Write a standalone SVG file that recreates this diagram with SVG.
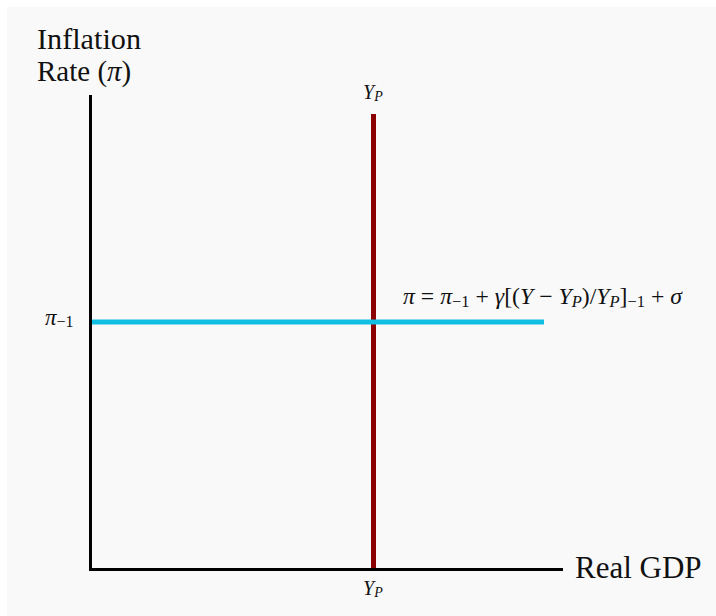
<svg xmlns="http://www.w3.org/2000/svg" width="716" height="616" viewBox="0 0 716 616">
<style>
.lbl{font-family:"Liberation Serif","DejaVu Serif",serif;fill:#111;}
.it{font-style:italic;}
.axis{stroke:#000;stroke-width:3;fill:none;}
</style>
<rect x="0" y="0" width="716" height="616" fill="#ffffff"/>
<rect x="7" y="7" width="709" height="609" fill="#f9f9f9"/>
<g id="connectors">
<polyline class="axis" points="90.5,95 90.5,569.5 563,569.5"/>
<line id="lras" x1="373.5" y1="114" x2="373.5" y2="568" stroke="#8b0000" stroke-width="5"/>
<line id="pc" x1="92" y1="322" x2="544" y2="322" stroke="#10bfe2" stroke-width="5"/>
</g>
<g id="ylabel">
<text class="lbl" x="37" y="49" font-size="29" textLength="104" lengthAdjust="spacingAndGlyphs">Inflation</text>
<text class="lbl" x="37" y="81" font-size="29">Rate (<tspan class="it">π</tspan>)</text>
</g>
<g id="xlabel">
<text class="lbl" x="575" y="578" font-size="31">Real GDP</text>
</g>
<g id="yp-top">
<text class="lbl it" x="363" y="99" font-size="20">Y<tspan font-size="14" dy="2">P</tspan></text>
</g>
<g id="yp-bottom">
<text class="lbl it" x="363" y="595" font-size="20">Y<tspan font-size="14" dy="2">P</tspan></text>
</g>
<g id="pi-label">
<text class="lbl" x="45" y="325" font-size="23"><tspan class="it">π</tspan><tspan font-size="16" dy="2">−1</tspan></text>
</g>
<g id="equation">
<text class="lbl" x="403" y="304" font-size="23" textLength="279" lengthAdjust="spacingAndGlyphs"><tspan class="it">π</tspan> = <tspan class="it">π</tspan><tspan font-size="16" dy="3">−1</tspan><tspan dy="-3"> + </tspan><tspan class="it">γ</tspan>[(<tspan class="it">Y</tspan> − <tspan class="it">Y</tspan><tspan class="it" font-size="16" dy="3">P</tspan><tspan dy="-3">)/</tspan><tspan class="it">Y</tspan><tspan class="it" font-size="16" dy="3">P</tspan><tspan dy="-3">]</tspan><tspan font-size="16" dy="3">−1</tspan><tspan dy="-3"> + </tspan><tspan class="it">σ</tspan></text>
</g>
</svg>
